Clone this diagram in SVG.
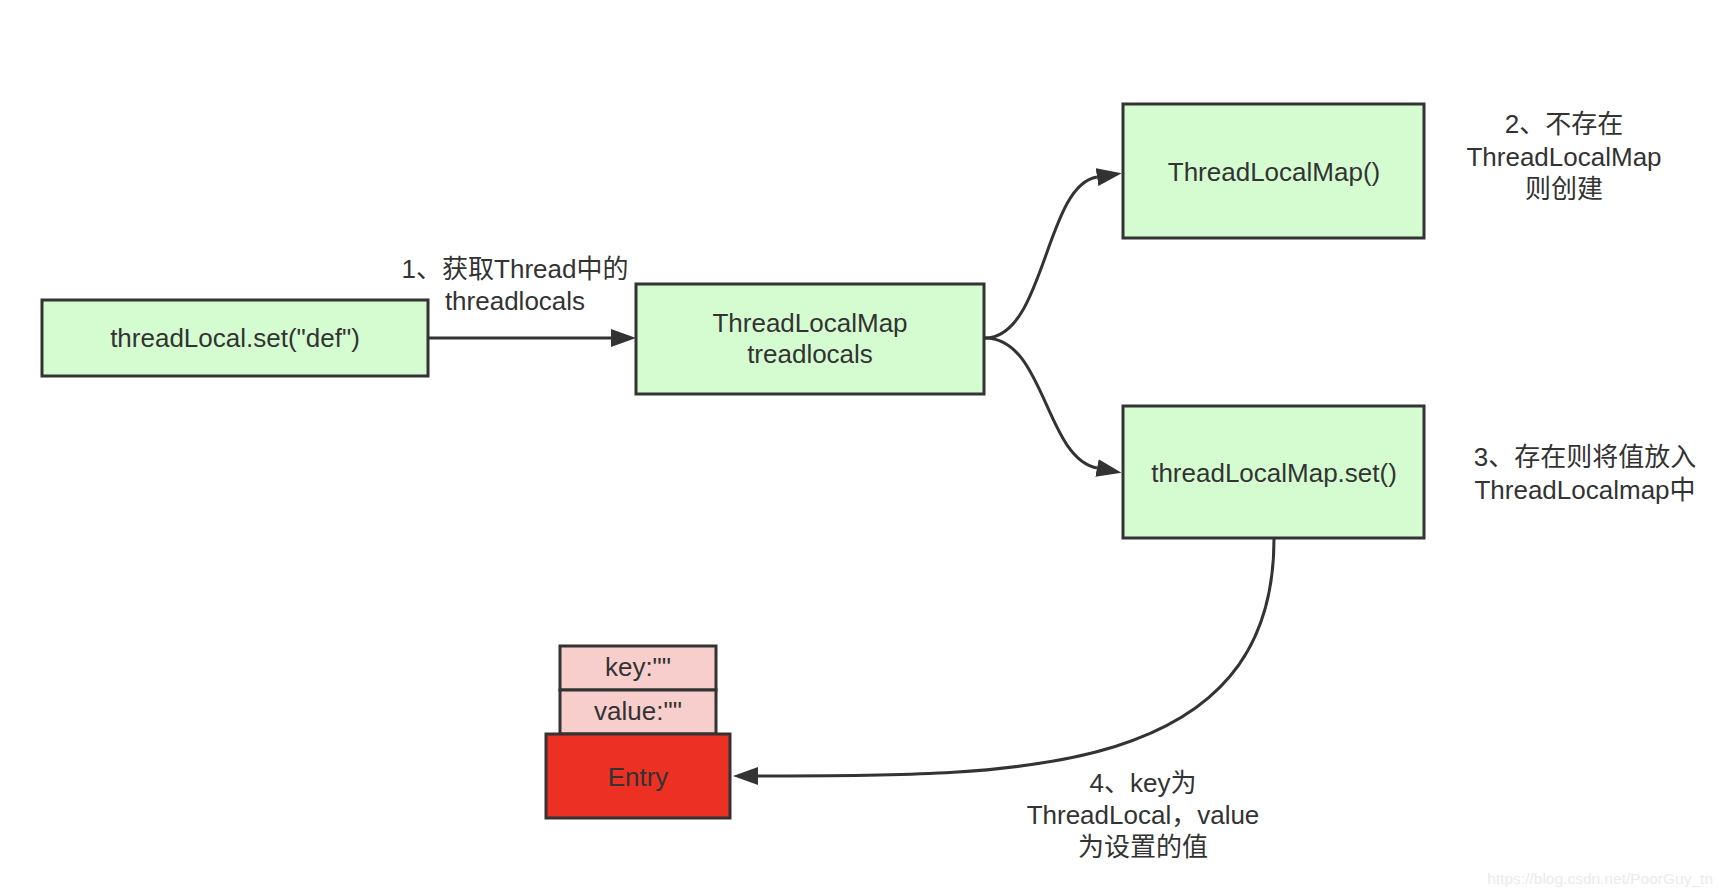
<svg xmlns="http://www.w3.org/2000/svg" width="1722" height="896" viewBox="0 0 1722 896">
<style>
.box{fill:#d5fcd1;stroke:#333;stroke-width:3}
.pink{fill:#f8cecc;stroke:#333;stroke-width:3}
.red{fill:#ec3124;stroke:#333;stroke-width:3}
text{font-family:"Liberation Sans","Noto Sans CJK SC",sans-serif;font-size:26px;fill:#333;text-anchor:middle}
.edge{fill:none;stroke:#333;stroke-width:3}
.wm{font-size:15.5px;fill:#ebebeb;text-anchor:end}
</style>
<defs>
<marker id="arr" markerUnits="userSpaceOnUse" markerWidth="26" markerHeight="18" refX="0" refY="9" orient="auto">
<path d="M0,0 L25,9 L0,18 Z" fill="#333"/>
</marker>
</defs>
<rect width="1722" height="896" fill="#fff"/>
<g id="edges">
<path class="edge" d="M428,338 L611,338" marker-end="url(#arr)"/>
<path class="edge" d="M985,338 C1045,338 1045,185 1097,177" marker-end="url(#arr)"/>
<path class="edge" d="M985,338 C1045,338 1045,458 1097,468" marker-end="url(#arr)"/>
<path class="edge" d="M1274,539 C1274,780 1010,776 758,776" marker-end="url(#arr)"/>
</g>
<g id="label1">
<text x="515" y="278">1、获取Thread中的</text>
<text x="515" y="310">threadlocals</text>
</g>
<g id="label2">
<text x="1564" y="133">2、不存在</text>
<text x="1564" y="166">ThreadLocalMap</text>
<text x="1564" y="198">则创建</text>
</g>
<g id="label3">
<text x="1585" y="466">3、存在则将值放入</text>
<text x="1585" y="499">ThreadLocalmap中</text>
</g>
<g id="label4">
<text x="1143" y="792">4、key为</text>
<text x="1143" y="824">ThreadLocal，value</text>
<text x="1143" y="856">为设置的值</text>
</g>
<g id="node-threadLocalSet">
<rect class="box" x="42" y="300" width="386" height="76"/>
<text x="235" y="347">threadLocal.set("def")</text>
</g>
<g id="node-treadlocals">
<rect class="box" x="636" y="284" width="348" height="110"/>
<text x="810" y="332">ThreadLocalMap</text>
<text x="810" y="363">treadlocals</text>
</g>
<g id="node-create">
<rect class="box" x="1123" y="104" width="301" height="134"/>
<text x="1274" y="181">ThreadLocalMap()</text>
</g>
<g id="node-set">
<rect class="box" x="1123" y="406" width="301" height="132"/>
<text x="1274" y="482">threadLocalMap.set()</text>
</g>
<g id="node-key">
<rect class="pink" x="560" y="646" width="156" height="44"/>
<text x="638" y="676">key:""</text>
</g>
<g id="node-value">
<rect class="pink" x="560" y="690" width="156" height="44"/>
<text x="638" y="720">value:""</text>
</g>
<g id="node-entry">
<rect class="red" x="546" y="734" width="184" height="84"/>
<text x="638" y="786">Entry</text>
</g>
<text class="wm" x="1713" y="884">https://blog.csdn.net/PoorGuy_tn</text>
</svg>
